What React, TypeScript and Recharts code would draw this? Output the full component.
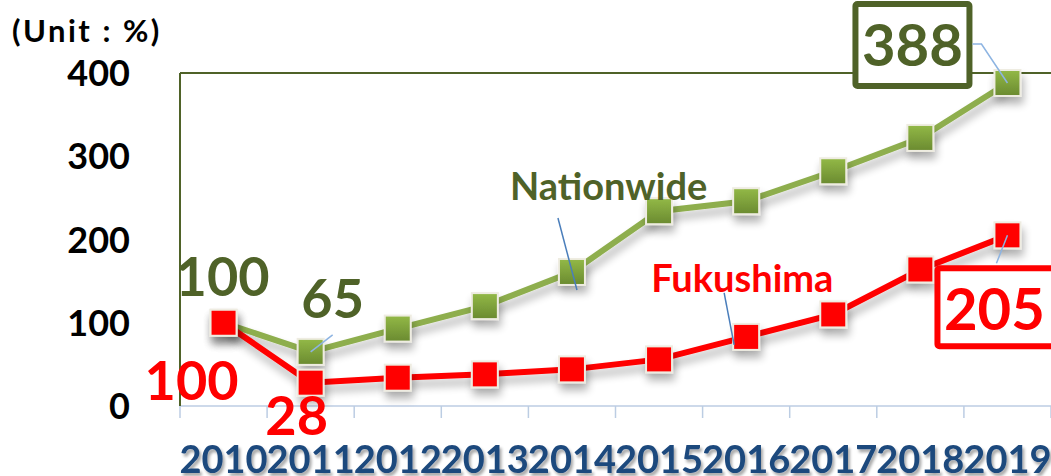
import { LineChart, Line, XAxis, YAxis, ReferenceLine } from 'recharts';

const years = ['2010', '2011', '2012', '2013', '2014', '2015', '2016', '2017', '2018', '2019'];
const nationwide = [100, 65, 93, 120, 161, 234, 246, 282, 322, 388];
const fukushima = [100, 28, 34, 38, 44, 56, 83, 110, 164, 205];
const yTicks = [0, 100, 200, 300, 400];
const seriesNames = { nationwide: 'Nationwide', fukushima: 'Fukushima' };

const rows = years.map((year, i) => ({ year, nationwide: nationwide[i], fukushima: fukushima[i] }));

const W = 1051;
const H = 476;
const LEFT = 180;
const RIGHT = 0;
const BAND = (W - LEFT - RIGHT) / years.length;

const GREEN_DARK = '#4F6228';
const GREEN = '#8EAE4E';
const RED = '#FF0000';
const NAVY = '#1F497D';
const LEADER = '#8DB4E2';
const LEADER_DARK = '#4A7EBB';
const FONT = 'Lato, "Open Sans", sans-serif';

const YearTick = ({ x, y, payload, index }: any) => {
  return (
    <g>
      <line x1={x - BAND / 2} y1={y} x2={x - BAND / 2} y2={y + 12} stroke="#BCCDE3" strokeWidth={1.5} />
      {index === years.length - 1 && (
        <line x1={x + BAND / 2} y1={y} x2={x + BAND / 2} y2={y + 12} stroke="#BCCDE3" strokeWidth={1.5} />
      )}
      <text
        x={x}
        y={y + 67}
        textAnchor="middle"
        fontFamily={FONT}
        fontWeight={700}
        fontSize={38}
        fill={NAVY}
        filter="url(#tsh)"
      >
        {payload.value}
      </text>
    </g>
  );
};

const ValueTick = ({ x, y, payload }: any) => (
  <text x={x} y={y + 13} textAnchor="end" fontFamily={FONT} fontWeight={700} fontSize={36} fill="#000">
    {payload.value}
  </text>
);

const Marker = (fill: string) => (props: any) => {
  const { cx, cy, index } = props;
  if (cx == null || cy == null) return <g key={index} />;
  return (
    <rect
      key={index}
      x={cx - 13}
      y={cy - 13}
      width={26}
      height={26}
      fill={fill}
      stroke="#EEECE1"
      strokeWidth={2}
      filter="url(#sh)"
    />
  );
};

const bigText = (x: number, y: number, text: any, color: string, size = 54) => (
  <text x={x} y={y} textAnchor="middle" fontFamily={FONT} fontWeight={700} fontSize={size} fill={color}>
    {text}
  </text>
);

const NationwideLabel = (props: any) => {
  const { x, y, index, value } = props;
  if (index === 0) return <g key={index}>{bigText(x - 1, y - 27, value, GREEN_DARK)}</g>;
  if (index === 1)
    return (
      <g key={index}>
        {bigText(x + 22, y - 34, value, GREEN_DARK)}
        <line x1={x + 22} y1={y - 17} x2={x} y2={y} stroke={LEADER} strokeWidth={1.5} />
      </g>
    );
  if (index === 4)
    return (
      <g key={index}>
        <text x={x - 62} y={y - 72} fontFamily={FONT} fontWeight={700} fontSize={38} fill={GREEN_DARK}>
          {seriesNames.nationwide}
        </text>
        <line x1={x - 14} y1={y - 54} x2={x + 5} y2={y + 18} stroke={LEADER_DARK} strokeWidth={1.5} />
      </g>
    );
  if (index === years.length - 1)
    return (
      <g key={index}>
        <rect x={x - 152} y={y - 79} width={114} height={82} fill="#fff" stroke={GREEN_DARK} strokeWidth={6} rx={2} />
        {bigText(x - 95, y - 17, value, GREEN_DARK, 58)}
        <polyline
          points={`${x - 35},${y - 39} ${x - 26},${y - 39} ${x},${y}`}
          fill="none"
          stroke={LEADER}
          strokeWidth={1.5}
        />
      </g>
    );
  return <g key={index} />;
};

const FukushimaLabel = (props: any) => {
  const { x, y, index, value } = props;
  if (index === 0) return <g key={index}>{bigText(x - 32, y + 77, value, RED)}</g>;
  if (index === 1) return <g key={index}>{bigText(x - 14, y + 52, value, RED)}</g>;
  if (index === 6)
    return (
      <g key={index}>
        <text x={x - 95} y={y - 45} fontFamily={FONT} fontWeight={700} fontSize={38} fill={RED}>
          {seriesNames.fukushima}
        </text>
        <line x1={x - 22} y1={y - 44} x2={x - 12} y2={y + 8} stroke={LEADER_DARK} strokeWidth={1.5} />
      </g>
    );
  if (index === years.length - 1)
    return (
      <g key={index}>
        <line x1={x - 11} y1={y + 28} x2={x} y2={y} stroke={LEADER} strokeWidth={1.5} />
        <rect x={x - 70} y={y + 33} width={130} height={78} fill="#fff" stroke={RED} strokeWidth={6} rx={2} />
        {bigText(x - 13, y + 95, value, RED, 58)}
      </g>
    );
  return <g key={index} />;
};

export default function App() {
  return (
    <div style={{ position: 'absolute', left: 0, top: 0, width: W, height: H, background: '#fff', overflow: 'hidden' }}>
      <style>{`.recharts-line-curve { filter: url(#sh); }`}</style>
      <svg width={0} height={0} style={{ position: 'absolute' }}>
        <defs>
          <linearGradient id="gg" x1="0" y1="0" x2="0" y2="1">
            <stop offset="0%" stopColor="#93B947" />
            <stop offset="100%" stopColor="#6A8A30" />
          </linearGradient>
          <filter id="sh" filterUnits="userSpaceOnUse" x={0} y={0} width={W} height={H}>
            <feGaussianBlur in="SourceAlpha" stdDeviation={4} />
            <feOffset dx={2} dy={7} result="b" />
            <feComponentTransfer>
              <feFuncA type="linear" slope={0.3} />
            </feComponentTransfer>
            <feMerge>
              <feMergeNode />
              <feMergeNode in="SourceGraphic" />
            </feMerge>
          </filter>
          <filter id="tsh" filterUnits="userSpaceOnUse" x={0} y={0} width={W} height={H}>
            <feGaussianBlur in="SourceAlpha" stdDeviation={1.5} />
            <feOffset dx={2} dy={3} />
            <feComponentTransfer>
              <feFuncA type="linear" slope={0.35} />
            </feComponentTransfer>
            <feMerge>
              <feMergeNode />
              <feMergeNode in="SourceGraphic" />
            </feMerge>
          </filter>
        </defs>
      </svg>
      <div
        style={{
          position: 'absolute',
          left: 12,
          top: 11,
          fontFamily: FONT,
          fontWeight: 700,
          fontSize: 31,
          letterSpacing: 2.5,
          color: '#000',
          lineHeight: '38px',
          whiteSpace: 'nowrap',
        }}
      >
        (Unit : %)
      </div>
      <LineChart width={W} height={H} data={rows} margin={{ top: 73, right: RIGHT, bottom: 0, left: 0 }}>
        <XAxis
          dataKey="year"
          scale="band"
          height={70}
          interval={0}
          tickSize={0}
          tickMargin={0}
          tickLine={false}
          axisLine={{ stroke: '#BCCDE3', strokeWidth: 1.5 }}
          tick={<YearTick />}
        />
        <YAxis
          domain={[0, 400]}
          ticks={yTicks}
          width={LEFT}
          tickSize={0}
          tickMargin={50}
          tickLine={false}
          axisLine={{ stroke: GREEN_DARK, strokeWidth: 2 }}
          tick={<ValueTick />}
        />
        <ReferenceLine y={400} stroke={GREEN_DARK} strokeWidth={2} />
        <Line
          dataKey="nationwide"
          stroke={GREEN}
          strokeWidth={6}
          dot={Marker('url(#gg)')}
          label={NationwideLabel}
          isAnimationActive={false}
        />
        <Line
          dataKey="fukushima"
          stroke={RED}
          strokeWidth={6}
          dot={Marker(RED)}
          label={FukushimaLabel}
          isAnimationActive={false}
        />
      </LineChart>
    </div>
  );
}
